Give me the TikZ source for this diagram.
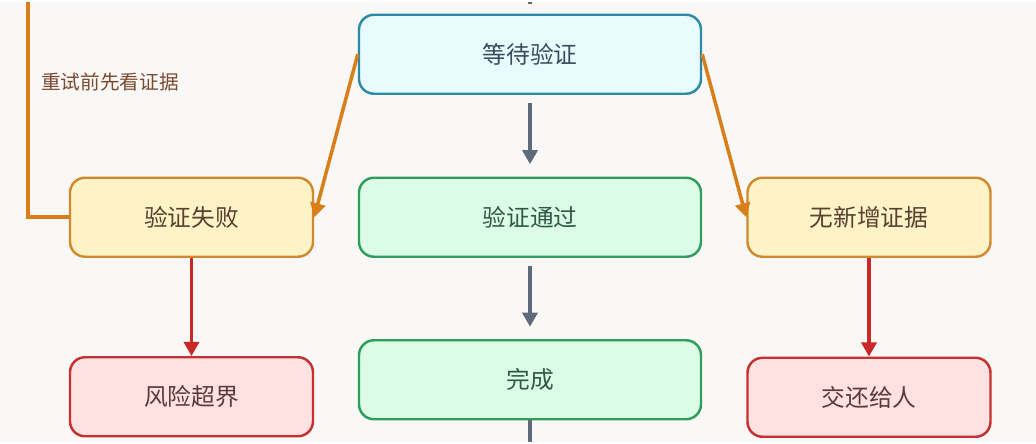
\documentclass[tikz,border=0pt]{standalone}
\usepackage{fontspec}
\newfontfamily\cjk{Noto Sans CJK SC}
\usetikzlibrary{arrows.meta}
\usetikzlibrary{positioning}

\definecolor{bgcol}{HTML}{FAF8F6}
\definecolor{waitfill}{HTML}{E9FCFD}
\definecolor{waitdraw}{HTML}{2B8BA5}
\definecolor{waittext}{HTML}{3B4A5C}
\definecolor{okfill}{HTML}{DCFCE7}
\definecolor{okdraw}{HTML}{2F9E5C}
\definecolor{oktext}{HTML}{2D5A45}
\definecolor{warnfill}{HTML}{FEF3C7}
\definecolor{warndraw}{HTML}{D08A2E}
\definecolor{warntext}{HTML}{5A4030}
\definecolor{badfill}{HTML}{FEE2E2}
\definecolor{baddraw}{HTML}{C53030}
\definecolor{badtext}{HTML}{5C3A3A}
\definecolor{greyarrow}{HTML}{5F6B7D}
\definecolor{orangearrow}{HTML}{D97F1A}
\definecolor{redarrow}{HTML}{C82828}
\definecolor{retrytext}{HTML}{7A4A30}

\begin{document}
\begin{tikzpicture}[
  box/.style={rounded corners=0.3cm, line width=1.4pt, minimum height=1.58cm,
    font=\cjk\fontsize{13.5}{16}\selectfont},
  waitbox/.style={box, fill=waitfill, draw=waitdraw, text=waittext, minimum width=6.84cm},
  okbox/.style={box, fill=okfill, draw=okdraw, text=oktext, minimum width=6.84cm},
  warnbox/.style={box, fill=warnfill, draw=warndraw, text=warntext, minimum width=4.86cm},
  badbox/.style={box, fill=badfill, draw=baddraw, text=badtext, minimum width=4.86cm},
  flow/.style={draw=greyarrow, line width=2pt, -{Triangle[length=8pt,width=8.5pt]}},
  flowline/.style={draw=greyarrow, line width=2pt},
  retry/.style={draw=orangearrow, line width=2pt, -{Triangle[length=8pt,width=8.5pt]}},
  fatal/.style={draw=redarrow, line width=2pt, -{Triangle[length=8pt,width=8.5pt]}}
]
\fill[bgcol] (0,0) rectangle (20.72,-8.8);

\node[waitbox] (wait) at (10.6,-1.05) {等待验证};
\node[warnbox] (fail) at (3.83,-4.31) {验证失败};
\node[okbox] (pass) at (10.6,-4.31) {验证通过};
\node[warnbox] (nonew) at (17.38,-4.31) {无新增证据};
\node[badbox] (risk) at (3.83,-7.9) {风险超界};
\node[okbox] (done) at (10.6,-7.56) {完成};
\node[badbox] (handoff) at (17.38,-7.91) {交还给人};

\coordinate (in) at (10.6,0);
\coordinate (out) at (10.6,-8.8);
\coordinate (looptop) at (0.56,0);

\draw[flowline] (in) -- ([yshift=2mm]wait.north);
\draw[flow, shorten <=4.5pt, shorten >=7pt] (wait) -- (pass);
\draw[flow, shorten <=4.5pt, shorten >=7pt] (pass) -- (done);
\draw[flowline] (done) -- (out);

\draw[retry] (wait.west) -- (fail.east);
\draw[retry] (wait.east) -- (nonew.west);
\draw[fatal] (fail) -- (risk);
\draw[fatal] (nonew) -- (handoff);

% retry loop
\draw[draw=orangearrow, line width=2pt] (fail.west) -| (looptop);
\node[text=retrytext, font=\cjk\fontsize{11.2}{13}\selectfont] (retrylabel) at (2.2,-1.6) {重试前先看证据};

\end{tikzpicture}
\end{document}
